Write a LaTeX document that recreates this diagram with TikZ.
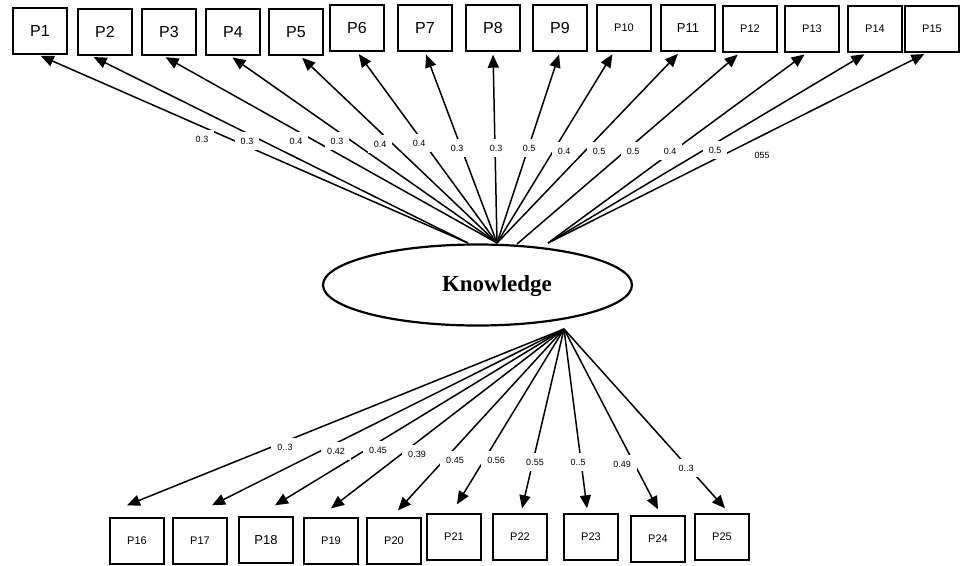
\documentclass[tikz,border=0pt]{standalone}
\usepackage{fontspec}
\setmainfont{Liberation Sans}
\newfontfamily\knowfont{Liberation Serif}
\usetikzlibrary{arrows.meta, shapes.geometric}

\tikzset{
  pbox/.style={draw, line width=1.4pt, minimum width=54pt, minimum height=46pt, inner sep=0pt},
  pbig/.style={pbox, font=\fontsize{16}{18}\selectfont},
  pmid/.style={pbox, font=\fontsize{13}{15}\selectfont},
  psmall/.style={pbox, font=\fontsize{11}{13}\selectfont},
  arr/.style={line width=1.5pt, -{Triangle[length=13pt,width=11pt]}, shorten >=3pt},
  wt/.style={fill=white, inner xsep=6pt, inner ysep=6pt, font=\fontsize{9}{10}\selectfont},
}

\begin{document}
\begin{tikzpicture}[x=1pt, y=-1pt]
\useasboundingbox (0,0) rectangle (960,565);
%\draw[step=20,gray!30,very thin] (0,0) grid (960,565); %background grid

% latent variable
\node[ellipse, draw, fill=white, line width=2.2pt, minimum width=309pt, minimum height=81pt, inner sep=0pt] (know) at (477.5,285) {};
\node[font=\knowfont\bfseries\fontsize{23}{26}\selectfont] (klab) at (497,286) {Knowledge};
\coordinate (ka) at (468,243);
\coordinate (kb) at (497,243);
\coordinate (kc) at (517,244);
\coordinate (kd) at (548,243);
\coordinate (ke) at (564,329);

% upper items
\node[pbig]   (p1)  at (40,31)  {P1};  %1
\node[pbig]   (p2)  at (105,32) {P2};  %2
\node[pbig]   (p3)  at (169,32) {P3};  %3
\node[pbig]   (p4)  at (233,32) {P4};  %4
\node[pbig]   (p5)  at (296,32) {P5};  %5
\node[pbig]   (p6)  at (357,28) {P6};  %6
\node[pbig]   (p7)  at (425,28) {P7};  %7
\node[pbig]   (p8)  at (493,28) {P8};  %8
\node[pbig]   (p9)  at (560,28) {P9};  %9
\node[psmall] (p10) at (624,28) {P10}; %10
\node[pmid]   (p11) at (688,28) {P11}; %11
\node[psmall] (p12) at (750,29) {P12}; %12
\node[psmall] (p13) at (812,29) {P13}; %13
\node[psmall] (p14) at (875,29) {P14}; %14
\node[psmall] (p15) at (932,29) {P15}; %15

% lower items
\node[psmall] (p16) at (137,541) {P16}; %16
\node[psmall] (p17) at (200,541) {P17}; %17
\node[pmid]   (p18) at (266,540) {P18}; %18
\node[psmall] (p19) at (331,541) {P19}; %19
\node[psmall] (p20) at (394,541) {P20}; %20
\node[psmall] (p21) at (454,537) {P21}; %21
\node[psmall] (p22) at (520,537) {P22}; %22
\node[psmall] (p23) at (591,537) {P23}; %23
\node[psmall] (p24) at (658,539) {P24}; %24
\node[psmall] (p25) at (722,537) {P25}; %25

% loadings, upper
\draw[arr] (ka) -- ([xshift=-2pt]p1.south);
\draw[arr] (ka) -- ([xshift=-14pt]p2.south);
\draw[arr] (kb) -- ([xshift=-6pt]p3.south);
\draw[arr] (kb) -- ([xshift=-3pt]p4.south);
\draw[arr] (kb) -- ([xshift=4pt]p5.south);
\draw[arr] (kb) -- (p6.south);
\draw[arr] (kb) -- (p7.south);
\draw[arr] (kb) -- (p8.south);
\draw[arr] (kb) -- (p9.south);
\draw[arr] (kb) -- ([xshift=-10pt]p10.south);
\draw[arr] (kb) -- ([xshift=-8pt]p11.south);
\draw[arr] (kc) -- ([xshift=-10pt]p12.south);
\draw[arr] (kd) -- ([xshift=-5pt]p13.south);
\draw[arr] (kd) -- ([xshift=-8pt]p14.south);
\draw[arr] (kd) -- ([xshift=-5pt]p15.south);

% loadings, lower
\draw[arr, shorten >=0pt] (ke) -- ([xshift=-10pt,yshift=12pt]p16.north);
\draw[arr, shorten >=0pt] (ke) -- ([xshift=12pt,yshift=12pt]p17.north);
\draw[arr, shorten >=0pt] (ke) -- ([xshift=9pt,yshift=11pt]p18.north);
\draw[arr, shorten >=0pt] (ke) -- ([yshift=9pt]p19.north);
\draw[arr, shorten >=0pt] (ke) -- ([xshift=4pt,yshift=7pt]p20.north);
\draw[arr, shorten >=0pt] (ke) -- ([xshift=3pt,yshift=9pt]p21.north);
\draw[arr, shorten >=0pt] (ke) -- ([xshift=2pt,yshift=5pt]p22.north);
\draw[arr, shorten >=0pt] (ke) -- ([xshift=-4pt,yshift=5pt]p23.north);
\draw[arr, shorten >=0pt] (ke) -- ([yshift=6pt]p24.north);
\draw[arr, shorten >=0pt] (ke) -- ([xshift=3pt,yshift=5pt]p25.north);

% values
\node[wt] (l1)  at (202,139) {0.3}; %1
\node[wt] (l2)  at (247,141) {0.3}; %2
\node[wt] (l3)  at (296,141) {0.4}; %3
\node[wt] (l4)  at (337,141) {0.3}; %4
\node[wt] (l5)  at (380,144) {0.4}; %5
\node[wt] (l6)  at (419,143) {0.4}; %6
\node[wt] (l7)  at (457,148) {0.3}; %7
\node[wt] (l8)  at (496,148) {0.3}; %8
\node[wt] (l9)  at (529,148) {0.5}; %9
\node[wt] (l10) at (564,151) {0.4}; %10
\node[wt] (l11) at (599,151) {0.5}; %11
\node[wt] (l12) at (633,151) {0.5}; %12
\node[wt] (l13) at (670,151) {0.4}; %13
\node[wt] (l14) at (715,150) {0.5}; %14
\node[wt] (l15) at (762,155) {055}; %15
\node[wt] (l16) at (285,447) {0..3}; %16
\node[wt] (l17) at (336,451) {0.42}; %17
\node[wt] (l18) at (378,450) {0.45}; %18
\node[wt] (l19) at (417,454) {0.39}; %19
\node[wt] (l20) at (455,460) {0.45}; %20
\node[wt] (l21) at (496,460) {0.56}; %21
\node[wt] (l22) at (535,462) {0.55}; %22
\node[wt] (l23) at (578,462) {0..5}; %23
\node[wt] (l24) at (622,464) {0.49}; %24
\node[wt] (l25) at (686,468) {0..3}; %25
\end{tikzpicture}
\end{document}
